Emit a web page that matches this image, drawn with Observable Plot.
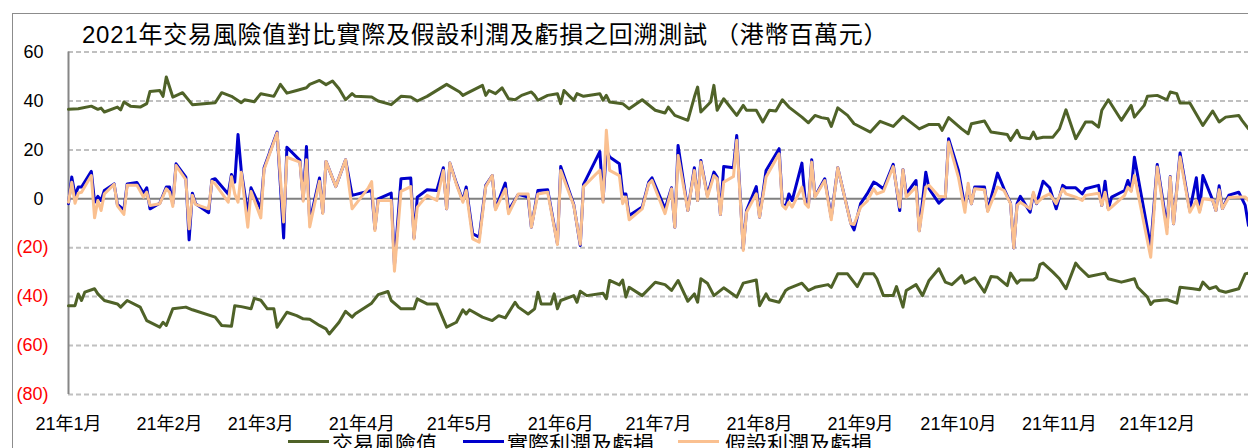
<!DOCTYPE html>
<html>
<head>
<meta charset="utf-8">
<script src="https://cdn.jsdelivr.net/npm/d3@7"></script>
<script src="https://cdn.jsdelivr.net/npm/@observablehq/plot@0.6"></script>
<style>
html,body{margin:0;padding:0;width:1248px;height:448px;overflow:hidden;background:#fff;}
#wrap{position:relative;width:1248px;height:448px;font-family:"Liberation Sans","Noto Sans CJK TC",sans-serif;}
#frame{position:absolute;left:12px;top:13px;width:1300px;height:500px;border-top:1px solid #8c8c8c;border-left:1px solid #8c8c8c;}
#chart{position:absolute;left:0;top:0;}
#title{position:absolute;left:82px;top:23px;font-size:24px;line-height:24px;letter-spacing:0.75px;color:#000;white-space:nowrap;}
.leg{position:absolute;top:433px;font-size:21px;line-height:21px;white-space:nowrap;color:#000;}
.sw{position:absolute;height:3px;top:440px;width:41px;}
</style>
</head>
<body>
<div id="wrap">
  <div id="frame"></div>
  <div id="chart"></div>
  <div id="title">2021年交易風險值對比實際及假設利潤及虧損之回溯測試 （港幣百萬元）</div>
  <div class="sw" style="left:288px;background:#4f6228"></div>
  <div class="leg" style="left:332px">交易風險值</div>
  <div class="sw" style="left:463px;background:#0000cc"></div>
  <div class="leg" style="left:507px">實際利潤及虧損</div>
  <div class="sw" style="left:678px;background:#fac090"></div>
  <div class="leg" style="left:725px">假設利潤及虧損</div>
</div>
<script>
// ---- data (HK$ million), dates in 2021 ----
const monthLabels = ["21年1月","21年2月","21年3月","21年4月","21年5月","21年6月","21年7月","21年8月","21年9月","21年10月","21年11月","21年12月"];
const posTicks = [60, 40, 20, 0];
const negTicks = [-20, -40, -60, -80];

const varUpper = [["01-01",36.6],["01-04",36.8],["01-08",37.9],["01-10",36.6],["01-11",37.1],["01-12",35.5],["01-16",37.5],["01-17",36.4],["01-18",39.6],["01-20",37.9],["01-23",37.5],["01-25",38.9],["01-26",43.9],["01-29",44.3],["01-30",41.9],["01-31",49.8],["02-02",41.6],["02-05",43.4],["02-08",38.5],["02-15",39.3],["02-17",43.4],["02-20",41.9],["02-23",39.3],["02-24",40.5],["02-27",39.7],["03-01",43.0],["03-05",41.9],["03-07",46.8],["03-09",43.2],["03-12",44.3],["03-15",45.4],["03-16",46.8],["03-19",48.4],["03-21",46.7],["03-23",48.2],["03-25",45.0],["03-27",40.5],["03-29",43.0],["03-30",41.9],["04-04",41.6],["04-06",40.0],["04-10",38.5],["04-13",41.9],["04-16",41.6],["04-18",40.0],["04-21",41.9],["04-27",46.8],["05-01",43.7],["05-02",42.3],["05-03",43.0],["05-08",46.4],["05-09",42.3],["05-10",44.3],["05-12",43.0],["05-14",45.4],["05-16",40.9],["05-18",40.5],["05-20",42.3],["05-23",43.7],["05-24",42.3],["05-25",40.3],["05-28",42.3],["05-31",43.0],["06-01",38.9],["06-02",44.3],["06-04",41.6],["06-05",40.3],["06-06",43.0],["06-08",41.9],["06-13",43.0],["06-14",40.3],["06-15",42.3],["06-16",39.6],["06-20",38.9],["06-22",36.8],["06-26",40.5],["06-30",36.2],["07-03",35.1],["07-04",37.5],["07-06",34.1],["07-10",32.1],["07-12",41.6],["07-13",45.7],["07-14",35.5],["07-17",39.6],["07-18",46.4],["07-19",36.2],["07-21",40.9],["07-25",34.1],["07-27",38.2],["07-28",36.2],["07-31",36.2],["08-02",31.4],["08-04",36.2],["08-06",35.9],["08-08",40.5],["08-10",37.5],["08-14",33.4],["08-16",31.1],["08-18",34.1],["08-20",33.2],["08-22",32.7],["08-23",29.6],["08-25",37.2],["08-28",34.1],["08-30",30.7],["09-04",27.3],["09-07",31.7],["09-11",29.6],["09-14",33.7],["09-19",28.6],["09-22",30.4],["09-25",30.4],["09-26",28.0],["09-28",33.2],["10-02",28.6],["10-04",26.6],["10-05",30.7],["10-09",31.8],["10-11",27.3],["10-16",26.3],["10-17",23.9],["10-19",28.0],["10-20",25.2],["10-23",24.6],["10-24",27.3],["10-25",24.6],["10-27",25.2],["10-30",25.2],["11-01",28.6],["11-03",36.4],["11-06",24.6],["11-09",31.4],["11-11",31.4],["11-13",29.3],["11-14",36.2],["11-16",40.5],["11-20",32.1],["11-23",38.2],["11-24",33.4],["11-27",38.2],["11-28",41.9],["12-01",42.3],["12-04",40.5],["12-05",43.7],["12-07",43.0],["12-08",39.2],["12-11",39.2],["12-15",30.0],["12-18",35.9],["12-20",31.4],["12-22",33.4],["12-26",34.1],["12-27",32.1],["12-29",28.6]];

const varLower = [["01-01",-43.7],["01-03",-43.7],["01-04",-38.9],["01-05",-41.6],["01-06",-38.2],["01-09",-36.8],["01-10",-38.9],["01-12",-41.6],["01-16",-43.0],["01-17",-44.3],["01-19",-41.6],["01-23",-44.3],["01-25",-49.8],["01-29",-52.5],["01-30",-50.5],["01-31",-51.8],["02-02",-45.0],["02-06",-44.3],["02-08",-45.4],["02-15",-48.4],["02-17",-51.8],["02-20",-52.1],["02-21",-43.7],["02-23",-44.1],["02-26",-45.0],["02-27",-40.7],["03-01",-41.5],["03-03",-45.0],["03-05",-45.0],["03-06",-52.5],["03-09",-46.4],["03-12",-47.8],["03-14",-49.1],["03-16",-49.3],["03-19",-51.8],["03-21",-53.2],["03-22",-55.3],["03-25",-50.5],["03-27",-46.0],["03-29",-48.4],["03-30",-47.0],["04-04",-42.7],["04-06",-39.2],["04-09",-37.9],["04-10",-41.6],["04-13",-45.0],["04-17",-45.0],["04-18",-40.9],["04-21",-43.0],["04-24",-43.0],["04-27",-52.5],["04-30",-50.5],["05-02",-45.4],["05-03",-47.1],["05-04",-45.4],["05-08",-48.4],["05-11",-49.8],["05-13",-47.8],["05-15",-48.7],["05-18",-42.3],["05-19",-44.3],["05-22",-47.1],["05-24",-45.0],["05-25",-38.2],["05-26",-43.0],["05-29",-43.0],["05-30",-38.9],["05-31",-45.0],["06-01",-41.6],["06-05",-39.6],["06-06",-42.3],["06-07",-37.8],["06-09",-39.6],["06-14",-38.6],["06-15",-40.9],["06-16",-33.4],["06-19",-35.2],["06-20",-33.2],["06-21",-40.2],["06-22",-36.2],["06-26",-39.6],["06-30",-34.1],["07-03",-35.1],["07-05",-37.5],["07-07",-33.4],["07-10",-41.9],["07-12",-38.9],["07-13",-42.3],["07-14",-32.7],["07-16",-34.5],["07-18",-39.6],["07-21",-36.4],["07-25",-40.2],["07-27",-34.5],["07-31",-33.2],["08-01",-43.7],["08-03",-38.9],["08-04",-41.3],["08-07",-42.3],["08-09",-37.5],["08-10",-36.6],["08-14",-34.5],["08-16",-37.5],["08-18",-36.2],["08-22",-35.1],["08-23",-36.2],["08-25",-30.7],["08-28",-30.7],["08-31",-35.9],["09-02",-30.7],["09-05",-30.7],["09-06",-32.7],["09-08",-39.6],["09-11",-39.6],["09-12",-35.9],["09-14",-44.3],["09-15",-37.5],["09-18",-35.1],["09-20",-39.6],["09-22",-33.4],["09-25",-28.6],["09-27",-34.1],["09-29",-35.1],["10-02",-31.4],["10-03",-34.5],["10-06",-32.3],["10-09",-38.2],["10-11",-31.8],["10-13",-32.1],["10-16",-35.5],["10-17",-30.4],["10-19",-34.5],["10-20",-33.2],["10-24",-33.2],["10-25",-32.1],["10-26",-26.9],["10-27",-26.3],["10-30",-30.0],["11-01",-32.7],["11-03",-36.8],["11-06",-26.3],["11-07",-28.0],["11-10",-31.8],["11-15",-30.4],["11-16",-32.7],["11-20",-34.1],["11-22",-33.4],["11-24",-32.7],["11-25",-36.2],["11-28",-40.2],["11-29",-43.2],["11-30",-41.8],["12-04",-41.3],["12-07",-42.7],["12-08",-36.2],["12-12",-36.8],["12-14",-37.2],["12-15",-34.1],["12-17",-36.8],["12-19",-35.9],["12-20",-37.5],["12-22",-38.2],["12-26",-36.8],["12-28",-30.7],["12-29",-30.4]];

const plDates = ["01-01","01-02","01-03","01-04","01-05","01-08","01-09","01-10","01-11","01-12","01-15","01-16","01-18","01-19","01-22","01-24","01-25","01-26","01-29","01-31","02-01","02-02","02-03","02-06","02-07","02-08","02-09","02-13","02-14","02-15","02-19","02-20","02-21","02-22","02-23","02-25","02-26","03-01","03-02","03-06","03-08","03-09","03-13","03-14","03-15","03-16","03-19","03-20","03-21","03-24","03-27","03-29","04-03","04-04","04-05","04-06","04-10","04-11","04-13","04-16","04-17","04-18","04-21","04-24","04-26","04-27","04-28","04-30","05-02","05-03","05-05","05-07","05-09","05-11","05-12","05-15","05-16","05-19","05-22","05-23","05-25","05-28","05-31","06-01","06-05","06-07","06-08","06-13","06-14","06-15","06-16","06-19","06-20","06-21","06-22","06-26","06-28","06-29","07-03","07-05","07-06","07-07","07-10","07-12","07-13","07-14","07-16","07-18","07-19","07-20","07-21","07-24","07-25","07-27","07-28","07-31","08-01","08-03","08-07","08-08","08-09","08-10","08-11","08-14","08-15","08-16","08-17","08-18","08-21","08-23","08-25","08-29","08-30","09-01","09-03","09-05","09-06","09-08","09-11","09-13","09-14","09-15","09-18","09-19","09-21","09-22","09-25","09-27","09-28","10-01","10-03","10-04","10-05","10-06","10-09","10-10","10-13","10-15","10-17","10-18","10-19","10-20","10-23","10-24","10-25","10-27","10-29","10-31","11-02","11-03","11-06","11-08","11-09","11-13","11-14","11-15","11-16","11-17","11-21","11-22","11-23","11-24","11-29","12-01","12-04","12-05","12-06","12-08","12-11","12-13","12-14","12-15","12-18","12-19","12-20","12-21","12-23","12-26","12-28","12-29"];

const actualPL = [-2.0,8.9,1.4,4.8,4.8,11.2,-1.4,1.0,-0.7,3.4,6.1,-2.3,-4.5,6.1,6.7,2.3,4.5,-4.1,-1.8,4.8,4.8,-2.0,14.3,8.9,-16.8,2.3,-2.0,-5.7,7.8,8.2,2.0,9.9,6.8,26.3,11.6,-6.1,4.5,-4.1,12.7,27.3,-16.0,21.1,15.7,-0.4,21.4,-9.5,8.5,-5.7,15.3,5.0,16.0,1.4,3.1,3.4,-12.3,0.0,2.3,-27.0,8.2,8.5,-16.0,0.7,3.7,3.4,12.7,-4.1,14.6,6.4,-0.7,4.8,-14.3,-15.7,5.5,9.5,-4.1,6.4,-4.8,1.8,0.7,-11.6,3.4,3.7,-18.4,13.2,-2.3,-19.1,5.9,19.3,-0.7,20.0,17.1,14.3,2.0,2.0,-6.8,-3.4,6.8,8.6,-4.1,4.5,-11.6,21.8,-4.8,12.7,-0.7,15.7,1.4,10.9,8.9,-6.4,13.2,12.7,25.9,-20.5,-4.8,5.0,-7.5,11.6,20.5,-2.0,-3.4,2.0,-0.7,14.6,-0.7,-2.7,16.0,1.0,8.2,-7.5,12.7,-10.0,-12.7,-2.0,2.0,6.8,6.1,4.1,14.1,-4.8,11.9,2.0,7.5,-13.0,10.9,4.1,-1.8,0.7,24.6,11.6,-3.4,4.8,-2.0,4.8,4.8,-4.8,10.5,4.1,-1.8,-20.1,-2.0,1.0,-5.5,2.0,-2.0,7.2,4.5,-4.1,5.5,4.5,4.5,2.0,4.1,5.5,-2.7,7.2,-4.1,0.7,3.4,7.5,3.5,17.0,-19.8,14.0,-11.6,9.1,-10.2,18.7,-4.8,8.6,-4.8,9.5,-0.5,-4.8,5.3,-4.0,1.5,2.7,-2.7,-10.9];

const hypoPL = [-1.4,6.8,-1.8,2.3,2.7,9.5,-7.8,-0.7,-4.8,2.0,5.9,-2.9,-6.4,5.5,5.5,0.7,2.7,-2.7,-2.0,4.1,2.7,-3.1,13.6,7.8,-12.3,1.4,-2.3,-4.1,7.2,6.1,-1.4,9.0,2.0,-1.4,10.9,-11.6,3.0,-7.8,12.0,26.9,-9.5,17.0,15.0,-1.0,16.0,-11.5,7.2,-6.0,15.3,5.0,16.0,-4.1,4.5,7.0,-13.0,-0.7,-0.7,-29.6,3.0,5.0,-16.4,-3.4,1.4,-0.7,11.6,-4.1,14.6,5.9,-1.4,3.4,-16.4,-17.7,5.0,9.5,-4.5,4.1,-6.1,2.0,2.0,-11.6,2.0,2.7,-18.7,11.6,-2.7,-18.6,5.0,11.7,-1.4,28.0,11.6,9.5,-2.0,0.7,-8.6,-4.1,6.1,7.5,-6.1,4.1,-11.6,17.7,-4.8,11.6,-0.7,15.0,0.7,9.5,8.2,-6.4,6.8,9.1,23.9,-21.1,-5.5,2.0,-7.5,8.9,18.4,-2.7,-4.1,-1.4,-3.4,4.8,-2.0,-3.4,15.0,0.7,7.5,-8.6,12.7,-10.2,-10.5,-3.4,-1.0,4.1,2.0,3.0,13.2,-3.4,11.9,0.7,4.8,-13.2,4.8,5.5,1.0,0.7,23.2,8.9,-5.5,6.4,-2.0,4.1,3.7,-5.2,4.8,3.4,-2.0,-20.1,-2.7,-1.4,-4.1,2.7,-1.8,0.7,2.0,-2.0,4.1,2.0,0.7,-0.7,1.4,2.3,-2.7,2.7,-4.5,-3.4,1.4,4.8,3.0,9.5,-23.9,13.0,-14.3,8.9,-10.2,17.1,-5.5,-0.7,-5.5,0.0,-0.5,-4.8,3.7,-4.0,0.5,0.7,0.7,-0.7];

// ---- drawing ----
const parse = s => new Date("2021-" + s + "T00:00:00Z");
const xStart = parse("01-01"), xEnd = parse("12-29");
const monthTicks = monthLabels.map((_, i) => new Date(Date.UTC(2021, i, 1)));
const grid = [60, 40, 20, -20, -40, -60, -80];
const pl = plDates.map((d, i) => ({date: parse(d), actual: actualPL[i], hypo: hypoPL[i]}));

const chart = Plot.plot({
  width: 1248,
  height: 448,
  marginLeft: 68,
  marginRight: 0,
  marginTop: 52,
  marginBottom: 54,
  x: {type: "utc", domain: [xStart, xEnd], range: [68, 1248]},
  y: {domain: [-80, 60], range: [393.9, 51.6]},
  style: {fontFamily: '"Liberation Sans","Noto Sans CJK TC",sans-serif', background: "transparent", color: "#000"},
  marks: [
    Plot.ruleY(grid, {stroke: "#c0c0c0", strokeWidth: 2, strokeDasharray: "5,3"}),
    Plot.ruleY([0], {stroke: "#808080", strokeWidth: 2}),
    Plot.ruleX([xStart], {y1: -80, y2: 60, stroke: "#868686", strokeWidth: 2}),
    Plot.axisY(posTicks, {tickSize: 0, tickPadding: 25, tickFormat: d => String(d), fill: "#000000", fontSize: 18, label: null}),
    Plot.axisY(negTicks, {tickSize: 0, tickPadding: 20, tickFormat: d => `(${-d})`, fill: "#ff0000", fontSize: 18, label: null}),
    Plot.axisX(monthTicks, {tickSize: 0, tickPadding: 23, tickFormat: d => monthLabels[d.getUTCMonth()], fill: "#000000", fontSize: 18, label: null}),
    Plot.line(varUpper, {x: d => parse(d[0]), y: d => d[1], stroke: "#4f6228", strokeWidth: 3}),
    Plot.line(varLower, {x: d => parse(d[0]), y: d => d[1], stroke: "#4f6228", strokeWidth: 3}),
    Plot.line(pl, {x: "date", y: "actual", stroke: "#0000cc", strokeWidth: 3}),
    Plot.line(pl, {x: "date", y: "hypo", stroke: "#fac090", strokeWidth: 3})
  ]
});
document.getElementById("chart").appendChild(chart);
</script>
</body>
</html>
